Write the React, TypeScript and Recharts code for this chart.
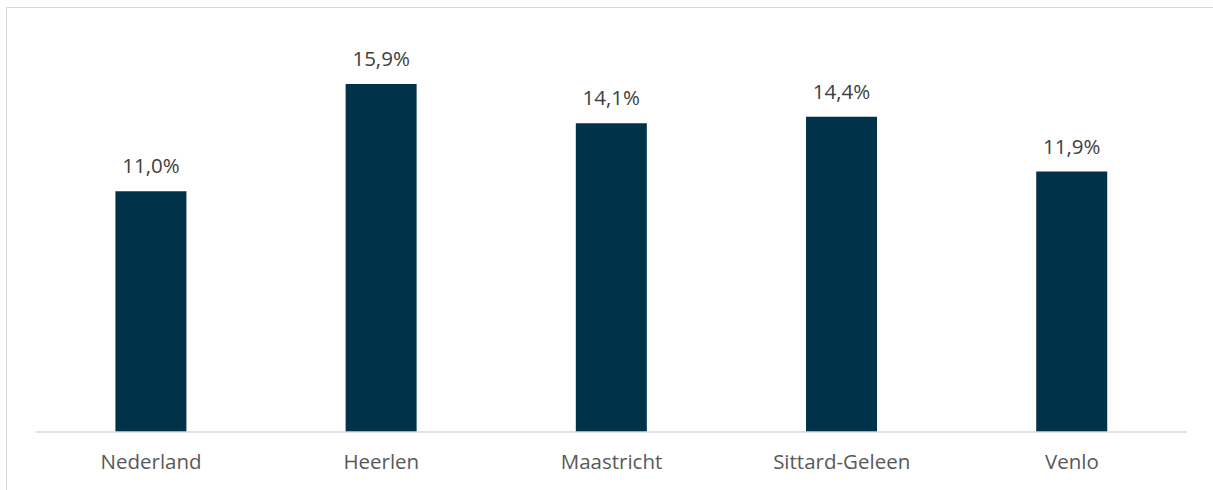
import { BarChart, Bar, XAxis, YAxis, LabelList } from "recharts";

const categories = ["Nederland", "Heerlen", "Maastricht", "Sittard-Geleen", "Venlo"];
const values = [11.0, 15.9, 14.1, 14.4, 11.9];

const data = categories.map((name, i) => ({ name, value: values[i] }));

const fmt = (v: any) => Number(v).toFixed(1).replace(".", ",") + "%";

export default function App() {
  return (
    <div style={{ position: "absolute", left: 0, top: 0, width: 1213, height: 490, overflow: "hidden", background: "#fff" }}>
      <div
        style={{
          position: "absolute",
          left: 6,
          top: 7,
          width: 1240,
          height: 520,
          border: "1.5px solid #d9d9d9",
        }}
      />
      <BarChart
        width={1213}
        height={490}
        data={data}
        margin={{ top: 38, right: 26, left: 36, bottom: 0 }}
        barCategoryGap="34.5%"
        style={{ position: "absolute", left: 0, top: 0, fontFamily: "Open Sans, sans-serif" }}
      >
        <XAxis
          dataKey="name"
          height={58}
          tickLine={false}
          axisLine={{ stroke: "#d9d9d9", strokeWidth: 1.5 }}
          tick={{ fill: "#595959", fontSize: 20.5 }}
          tickMargin={16}
        />
        <YAxis hide domain={[0, 18]} />
        <Bar dataKey="value" fill="#003249" isAnimationActive={false}>
          <LabelList dataKey="value" position="top" offset={18} formatter={fmt} fill="#404040" fontSize={20.5} />
        </Bar>
      </BarChart>
    </div>
  );
}
